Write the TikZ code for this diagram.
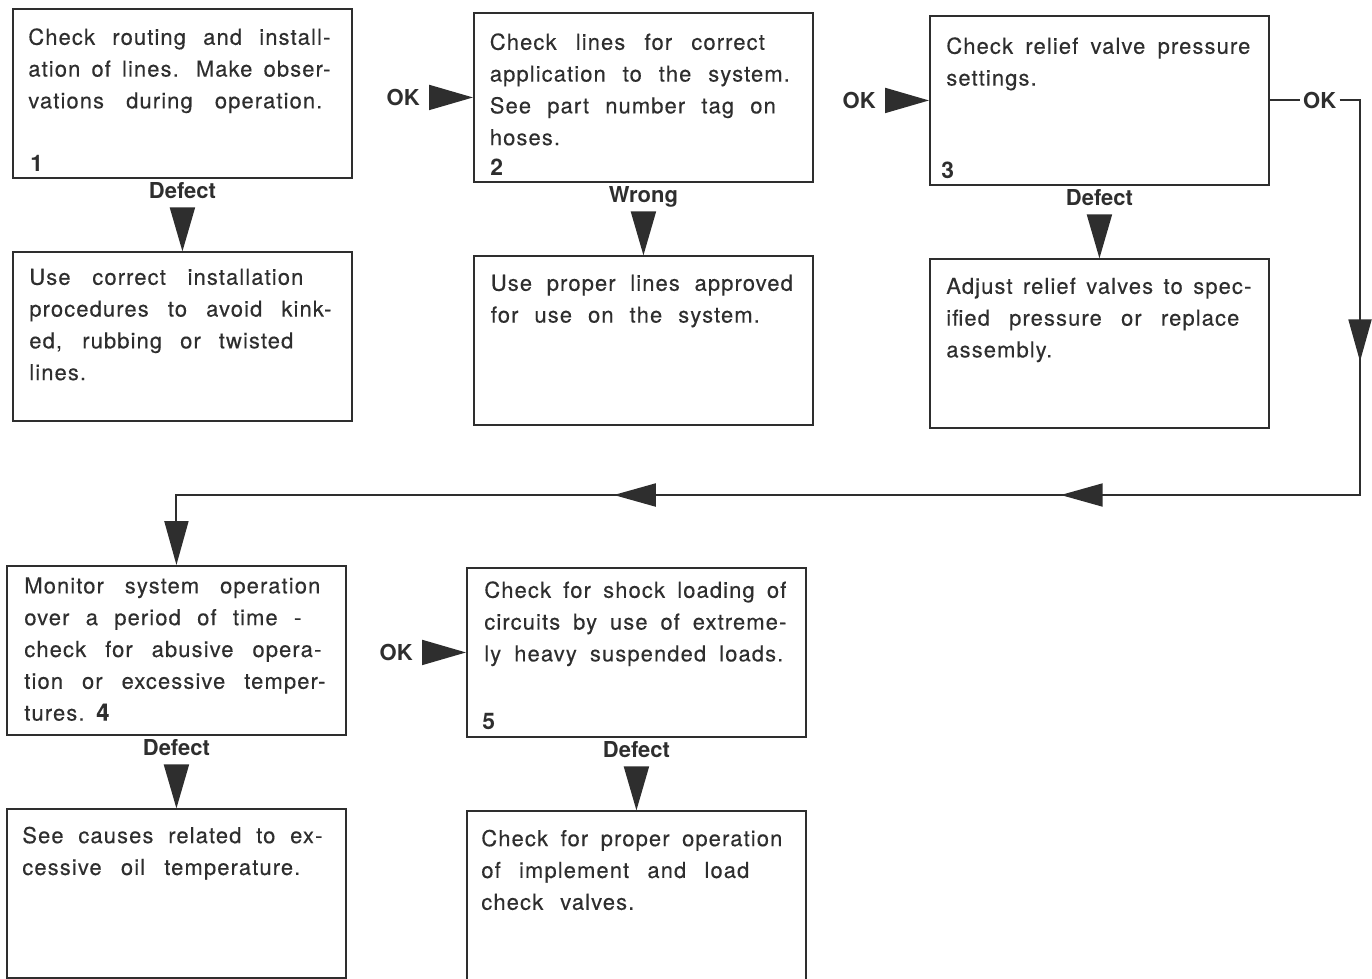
\documentclass[tikz,border=0pt]{standalone}
\usepackage{fontspec}
\setmainfont{TeX Gyre Heros}
\newfontfamily\bodyfont[LetterSpace=5, WordSpace=1.3, FakeBold=0.3]{TeX Gyre Heros}
\usetikzlibrary{arrows.meta, positioning, decorations.markings}
\definecolor{ink}{HTML}{2E2E2E}
% one printed line, spread to the width it has in the figure (in px)
\newlength{\pxlen}
\setlength{\pxlen}{0.02cm}
\newcommand{\fit}[2]{\makebox[#1\pxlen][s]{#2}}

\begin{document}
\begin{tikzpicture}[
    x=0.02cm, y=-0.02cm,
    every node/.style={text=ink},
    box/.style={draw=ink, line width=1.1pt, minimum width=6.78cm, minimum height=3.38cm, inner sep=0pt, anchor=north west},
    txt/.style={inner sep=0pt, align=left, font=\bodyfont\fontsize{12.5}{18.1}\selectfont},
    num/.style={inner sep=0pt, font=\bfseries\fontsize{13}{13}\selectfont},
    tag/.style={inner sep=0.16cm, text depth=0pt, font=\bfseries\fontsize{12.5}{13}\selectfont},
    line/.style={draw=ink, line width=1.1pt},
    tri/.style={line, shorten <=1pt, -{Triangle[length=0.88cm, width=0.5cm]}},
    loopline/.style={line, -{Triangle[length=0.88cm, width=0.48cm]},
        postaction={decorate}, decoration={markings,
        mark=at position 5.63cm with {\arrow{Triangle[length=0.84cm, width=0.46cm]}},
        mark=at position 14.29cm with {\arrow{Triangle[length=0.84cm, width=0.46cm]}},
        mark=at position 23.23cm with {\arrow{Triangle[length=0.84cm, width=0.46cm]}}}}
]
\useasboundingbox (0,0) rectangle (1372,978);

% Boxes
\node[box] (c1) at (12,8) {};
\node[box] (c2) at (473,12) {};
\node[box] (c3) at (929,15) {};
\node[box] (c4) at (6,565) {};
\node[box] (c5) at (466,567) {};
\node[box, below=1.45cm of c1] (c1b) {};
\node[box, below=1.45cm of c2] (c2b) {};
\node[box, below=1.45cm of c3] (c3b) {};
\node[box, below=1.45cm of c4] (c4b) {};
\node[box, below=1.45cm of c5] (c5b) {};

% Texts
\node[txt, below right=0.40cm and 0.32cm of c1.north west] (t1) {\fit{302}{Check routing and install-}\\ \fit{302}{ation of lines. Make obser-}\\ \fit{294}{vations during operation.}};
\node[txt, below right=0.42cm and 0.33cm of c2.north west] (t2) {\fit{275}{Check lines for correct}\\ \fit{300}{application to the system.}\\ \fit{286}{See part number tag on}\\ hoses.};
\node[txt, below right=0.44cm and 0.34cm of c3.north west] (t3) {\fit{304}{Check relief valve pressure}\\ settings.};
\node[txt, below right=0.34cm and 0.34cm of c1b.north west] (t1b) {\fit{274}{Use correct installation}\\ \fit{302}{procedures to avoid kink-}\\ \fit{264}{ed, rubbing or twisted}\\ lines.};
\node[txt, below right=0.38cm and 0.35cm of c2b.north west] (t2b) {\fit{302}{Use proper lines approved}\\ \fit{269}{for use on the system.}};
\node[txt, below right=0.38cm and 0.34cm of c3b.north west] (t3b) {\fit{305}{Adjust relief valves to spec-}\\ \fit{293}{ified pressure or replace}\\ assembly.};
\node[txt, below right=0.24cm and 0.36cm of c4.north west] (t4) {\fit{296}{Monitor system operation}\\ \fit{277}{over a period of time -}\\ \fit{297}{check for abusive opera-}\\ \fit{301}{tion or excessive temper-}\\ tures. {\bfseries\fontsize{13.5}{18}\selectfont 4}};
\node[txt, below right=0.28cm and 0.36cm of c5.north west] (t5) {\fit{302}{Check for shock loading of}\\ \fit{302}{circuits by use of extreme-}\\ \fit{299}{ly heavy suspended loads.}};
\node[txt, below right=0.36cm and 0.32cm of c4b.north west] (t4b) {\fit{300}{See causes related to ex-}\\ \fit{278}{cessive oil temperature.}};
\node[txt, below right=0.38cm and 0.30cm of c5b.north west] (t5b) {\fit{301}{Check for proper operation}\\ \fit{268}{of implement and load}\\ \fit{153}{check valves.}};

% Numbers
\node[num, above right=0.14cm and 0.36cm of c1.south west] (n1) {1};
\node[num, above right=0.14cm and 0.34cm of c2.south west] (n2) {2};
\node[num, above right=0.14cm and 0.24cm of c3.south west] (n3) {3};
\node[num, above right=0.16cm and 0.32cm of c5.south west] (n5) {5};

% Labels
\node[tag, left=0.9cm of c2] (ok1) {OK};
\node[tag, left=0.9cm of c3] (ok2) {OK};
\node[tag, left=0.9cm of c5] (ok3) {OK};
\node[tag, inner xsep=0.06cm, right=0.6cm of c3] (ok4) {OK};
\node[tag, above=0.9cm of c1b] (d1) {Defect};
\node[tag, above=0.9cm of c2b] (w2) {Wrong};
\node[tag, above=0.9cm of c3b] (d3) {Defect};
\node[tag, above=0.9cm of c4b] (d4) {Defect};
\node[tag, above=0.9cm of c5b] (d5) {Defect};

% Loop back
\coordinate (loopA) at (1360,0 |- ok4);
\coordinate (loopB) at (1360,495);
\coordinate (loopC) at (c4.north |- loopB);

% Arrows
\draw[tri] (ok1) -- (c2);
\draw[tri] (ok2) -- (c3);
\draw[tri] (ok3) -- (c5);
\draw[tri] (d1) -- (c1b);
\draw[tri] (w2) -- (c2b);
\draw[tri] (d3) -- (c3b);
\draw[tri] (d4) -- (c4b);
\draw[tri] (d5) -- (c5b);
\draw[line] (c3) -- (ok4);
\draw[loopline] (ok4) -- (loopA) -- (loopB) -- (loopC) -- (c4);

\end{tikzpicture}
\end{document}
